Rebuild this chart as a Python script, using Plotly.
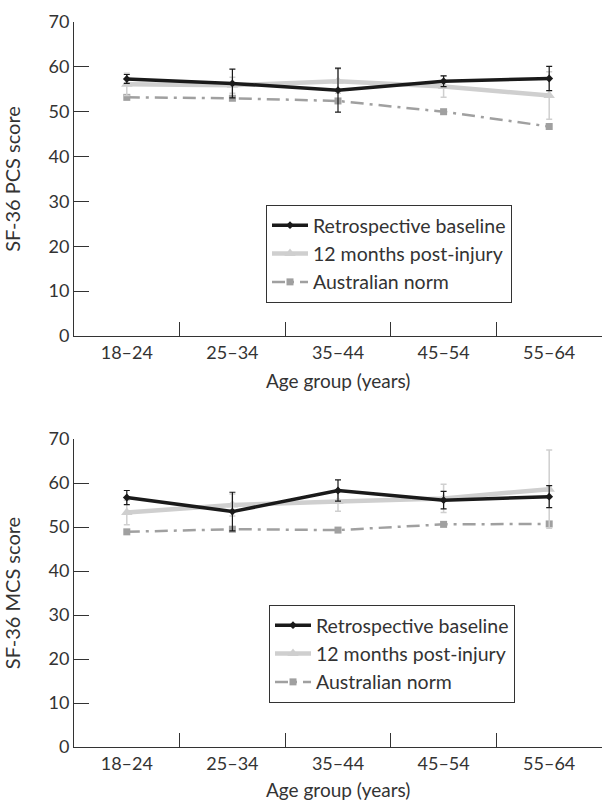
import plotly.graph_objects as go

categories = ["18–24", "25–34", "35–44", "45–54", "55–64"]

# Top panel: SF-36 PCS
pcs_baseline = [57.3, 56.3, 54.8, 56.8, 57.4]
pcs_baseline_err = [1.0, 3.2, 4.9, 1.2, 2.7]
pcs_12m = [56.1, 55.9, 56.8, 55.6, 53.6]
pcs_12m_err = [2.5, 1.8, 2.7, 2.4, 5.3]
pcs_norm = [53.2, 53.0, 52.4, 50.0, 46.7]

# Bottom panel: SF-36 MCS
mcs_baseline = [56.7, 53.5, 58.3, 56.1, 56.9]
mcs_baseline_err = [1.6, 4.4, 2.4, 2.0, 2.5]
mcs_12m = [53.3, 55.0, 55.8, 56.5, 58.6]
mcs_12m_err = [2.8, 2.5, 2.2, 3.2, 8.9]
mcs_norm = [48.9, 49.5, 49.3, 50.6, 50.7]

names = ["Retrospective baseline", "12 months post-injury", "Australian norm"]
x_title = "Age group (years)"

BLACK = "#1a1a1a"
LIGHT = "#cfcfcf"
MID = "#a0a0a0"
TXT = "#333333"
FONT = "Lato"

fig = go.Figure()


def add_panel(xa, ya, legend, base, base_err, m12, m12_err, norm):
    fig.add_trace(go.Scatter(
        x=categories, y=norm, name=names[2], xaxis=xa, yaxis=ya, legend=legend,
        mode="lines+markers", legendgroup=legend + "n", legendrank=3,
        line=dict(color=MID, width=2.5, dash="13px,6px,3px,6px"),
        marker=dict(symbol="square", size=7, color=MID)))
    fig.add_trace(go.Scatter(
        x=categories, y=m12, name=names[1], xaxis=xa, yaxis=ya, legend=legend,
        mode="lines+markers", legendgroup=legend + "m", legendrank=2,
        line=dict(color=LIGHT, width=4.5),
        marker=dict(symbol="triangle-up", size=10, color=LIGHT),
        error_y=dict(type="data", array=m12_err, color=LIGHT, thickness=1.5, width=3)))
    fig.add_trace(go.Scatter(
        x=categories, y=base, name=names[0], xaxis=xa, yaxis=ya, legend=legend,
        mode="lines+markers", legendgroup=legend + "b", legendrank=1,
        line=dict(color=BLACK, width=3.5),
        marker=dict(symbol="diamond", size=6, color=BLACK),
        error_y=dict(type="data", array=base_err, color=BLACK, thickness=1.2, width=3)))


add_panel("x", "y", "legend", pcs_baseline, pcs_baseline_err, pcs_12m, pcs_12m_err, pcs_norm)
add_panel("x2", "y2", "legend2", mcs_baseline, mcs_baseline_err, mcs_12m, mcs_12m_err, mcs_norm)

H = 801
top_dom = [(H - 336) / H, (H - 22) / H]
bot_dom = [(H - 747) / H, (H - 439) / H]

xcommon = dict(
    type="category", range=[-0.5, 4.5], showline=True, linecolor=TXT, linewidth=1,
    ticks="inside", tickson="boundaries", ticklen=14, tickcolor=TXT, tickwidth=1,
    showgrid=False, zeroline=False, automargin=False,
    tickfont=dict(family=FONT, size=18, color=TXT),
)
ycommon = dict(
    range=[0, 70], dtick=10, showline=True, linecolor=TXT, linewidth=1,
    ticks="inside", ticklen=15, tickcolor=TXT, tickwidth=1,
    showgrid=False, zeroline=False, automargin=False,
    tickfont=dict(family=FONT, size=18, color=TXT),
)

legcommon = dict(
    bgcolor="white", bordercolor=TXT, borderwidth=1,
    font=dict(family=FONT, size=19.5, color=TXT),
    traceorder="grouped", tracegroupgap=0, itemwidth=36,
    xanchor="left", yanchor="top",
)

fig.update_layout(
    width=605, height=801,
    margin=dict(l=74, r=3, t=0, b=0),
    plot_bgcolor="white", paper_bgcolor="white",
    showlegend=True,
    xaxis=dict(xcommon, domain=[0, 1], anchor="y"),
    yaxis=dict(ycommon, domain=top_dom, anchor="x",
               title=dict(text="SF-36 PCS score", font=dict(family=FONT, size=20, color=TXT), standoff=22)),
    xaxis2=dict(xcommon, domain=[0, 1], anchor="y2"),
    yaxis2=dict(ycommon, domain=bot_dom, anchor="x2",
                title=dict(text="SF-36 MCS score", font=dict(family=FONT, size=20, color=TXT), standoff=22)),
    legend=dict(legcommon, x=(266 - 74) / 528, y=(H - 205) / H),
    legend2=dict(legcommon, x=(269 - 74) / 528, y=(H - 605) / H),
)

for ycen in (380, 789):
    fig.add_annotation(
        text=x_title, xref="paper", yref="paper", x=0.5, y=(H - ycen) / H,
        xanchor="center", yanchor="middle", showarrow=False,
        font=dict(family=FONT, size=19, color=TXT))

fig.write_html(
    "out.html",
    config={"displayModeBar": False},
    post_script="document.body.style.margin='0';document.body.style.overflow='hidden';",
)
